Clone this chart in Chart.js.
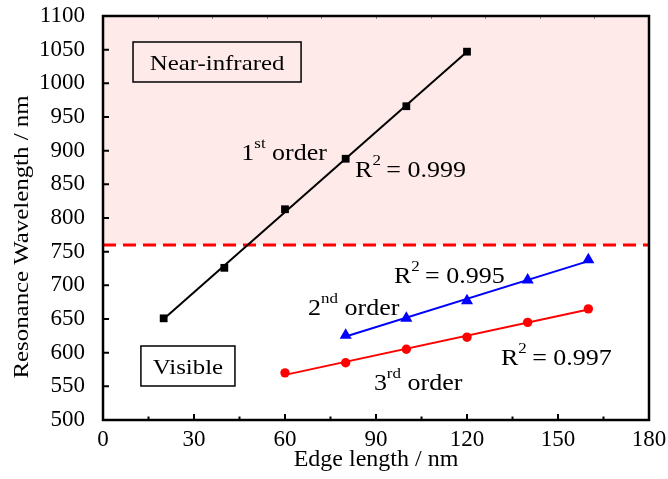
<!DOCTYPE html>
<html>
<head>
<meta charset="utf-8">
<script src="https://cdn.jsdelivr.net/npm/chart.js@4.4.0/dist/chart.umd.min.js"></script>
<style>
html, body { margin: 0; padding: 0; background: #fff; }
</style>
</head>
<body>
<canvas id="chart" width="668" height="479"></canvas>
<script>
// values
const edge1 = [20, 40, 60, 80, 100, 120];
const order1 = [651, 726, 813, 888, 966, 1047];
const edge2 = [80, 100, 120, 140, 160];
const order2 = [626, 651, 677, 708, 738];
const edge3 = [60, 80, 100, 120, 140, 160];
const order3 = [570, 585, 605, 623, 645, 665];

// fitted lines (end points)
const fit1X = [20, 120];
const fit1Y = [650, 1047];
const fit2X = [80, 160];
const fit2Y = [624, 736];
const fit3X = [60, 160];
const fit3Y = [567, 664];

// visible / near-infrared border
const borderX = [0, 180];
const borderY = [760, 760];

const xTicks = [0, 30, 60, 90, 120, 150, 180];
const yTicks = [500, 550, 600, 650, 700, 750, 800, 850, 900, 950, 1000, 1050, 1100];

const serif = "'Liberation Serif', 'Times New Roman', serif";
const stretch = 1.13;

const pts = (xs, ys) => xs.map((v, i) => ({x: v, y: ys[i]}));

// draws text pieces (with superscripts), slightly stretched sideways like the original
function drawParts(ctx, x, y, parts) {
    ctx.save();
    ctx.translate(x, y);
    ctx.scale(stretch, 1);
    ctx.fillStyle = '#000';
    ctx.textBaseline = 'alphabetic';
    let cx = 0;
    parts.forEach(p => {
        ctx.font = p.sup ? '15px ' + serif : '23px ' + serif;
        ctx.fillText(p.t, cx, p.sup ? -12 : 0);
        cx += ctx.measureText(p.t).width + (p.gap || 0);
    });
    ctx.restore();
}

const notes = [
    {x: 45.6, y: 886, parts: [{t: '1'}, {t: 'st', sup: true}, {t: ' order'}]},
    {x: 83.1, y: 861, parts: [{t: 'R'}, {t: '2', sup: true, gap: -1}, {t: ' = 0.999'}]},
    {x: 95.9, y: 703, parts: [{t: 'R'}, {t: '2', sup: true, gap: -1}, {t: ' = 0.995'}]},
    {x: 67.6, y: 656, parts: [{t: '2'}, {t: 'nd', sup: true}, {t: ' order'}]},
    {x: 131.2, y: 582, parts: [{t: 'R'}, {t: '2', sup: true, gap: -1}, {t: ' = 0.997'}]},
    {x: 89.3, y: 544.5, parts: [{t: '3'}, {t: 'rd', sup: true}, {t: ' order'}]}
];

const boxes = [
    {x0: 9.9, x1: 65.3, y0: 1061.4, y1: 1002, text: 'Near-infrared'},
    {x0: 12.5, x1: 43.5, y0: 609.9, y1: 550.5, text: 'Visible'}
];

const decorations = {
    id: 'decorations',
    afterDatasetsDraw(chart) {
        const {ctx, chartArea: a, scales: {x, y}} = chart;
        ctx.save();

        // boxes
        boxes.forEach(b => {
            const l = x.getPixelForValue(b.x0), r = x.getPixelForValue(b.x1);
            const t = y.getPixelForValue(b.y0), bt = y.getPixelForValue(b.y1);
            ctx.strokeStyle = '#000';
            ctx.lineWidth = 1.5;
            ctx.strokeRect(l, t, r - l, bt - t);
            ctx.save();
            ctx.translate((l + r) / 2, (t + bt) / 2 + 8);
            ctx.scale(stretch, 1);
            ctx.font = '22px ' + serif;
            ctx.fillStyle = '#000';
            ctx.textAlign = 'center';
            ctx.textBaseline = 'alphabetic';
            ctx.fillText(b.text, 0, 0);
            ctx.restore();
        });

        notes.forEach(n => drawParts(ctx, x.getPixelForValue(n.x), y.getPixelForValue(n.y), n.parts));

        // inward ticks
        ctx.strokeStyle = '#000';
        ctx.lineWidth = 2;
        ctx.beginPath();
        for (let v = 0; v <= 180; v += 15) {
            const px = x.getPixelForValue(v);
            ctx.moveTo(px, a.bottom);
            ctx.lineTo(px, a.bottom - (v % 30 === 0 ? 6 : 3.5));
        }
        yTicks.forEach(v => {
            const py = y.getPixelForValue(v);
            ctx.moveTo(a.left, py);
            ctx.lineTo(a.left + 6, py);
        });
        ctx.stroke();

        // faint ticks on the top edge
        ctx.strokeStyle = '#8a8a8a';
        ctx.lineWidth = 1;
        ctx.beginPath();
        for (let v = 18; v < 180; v += 18) {
            const px = Math.round(x.getPixelForValue(v)) + 0.5;
            ctx.moveTo(px, a.top);
            ctx.lineTo(px, a.top + 3);
        }
        ctx.stroke();

        // frame
        ctx.strokeStyle = '#000';
        ctx.lineWidth = 2.5;
        ctx.strokeRect(a.left, a.top, a.right - a.left, a.bottom - a.top);

        // y axis title, stretched along the text like the original
        ctx.save();
        ctx.translate(27.5, (a.top + a.bottom) / 2 + 19);
        ctx.rotate(-Math.PI / 2);
        ctx.scale(stretch, 1);
        ctx.font = '22px ' + serif;
        ctx.fillStyle = '#000';
        ctx.textAlign = 'center';
        ctx.textBaseline = 'alphabetic';
        ctx.fillText('Resonance Wavelength / nm', 0, 0);
        ctx.restore();

        ctx.restore();
    }
};

function makeChart() {
    new Chart(document.getElementById('chart'), {
        type: 'scatter',
        data: {
            datasets: [
                {
                    data: pts(fit1X, fit1Y), showLine: true, borderColor: '#000',
                    borderWidth: 2, pointRadius: 0, order: 2
                },
                {
                    data: pts(fit2X, fit2Y), showLine: true, borderColor: '#0000ff',
                    borderWidth: 2, pointRadius: 0, order: 2
                },
                {
                    data: pts(fit3X, fit3Y), showLine: true, borderColor: '#ff0000',
                    borderWidth: 2, pointRadius: 0, order: 2
                },
                {
                    data: pts(edge1, order1), pointStyle: 'rect', pointRadius: 5.5,
                    backgroundColor: '#000', borderColor: '#000', borderWidth: 0, order: 1
                },
                {
                    data: pts(edge2, order2), pointStyle: 'triangle', pointRadius: 7,
                    backgroundColor: '#0000ff', borderColor: '#0000ff', borderWidth: 0, order: 1
                },
                {
                    data: pts(edge3, order3), pointStyle: 'circle', pointRadius: 4.7,
                    backgroundColor: '#ff0000', borderColor: '#ff0000', borderWidth: 0, order: 1
                },
                {
                    data: pts(borderX, borderY), showLine: true, pointRadius: 0,
                    borderColor: '#ff0000', borderWidth: 3, borderDash: [13, 7],
                    fill: 'end', backgroundColor: '#ffeaea', order: 3
                }
            ]
        },
        options: {
            responsive: false,
            animation: false,
            layout: {autoPadding: false, padding: {left: 0, right: 19, top: 16, bottom: 0}},
            plugins: {legend: {display: false}, tooltip: {enabled: false}},
            scales: {
                x: {
                    type: 'linear', min: 0, max: 180,
                    afterBuildTicks: s => { s.ticks = xTicks.map(v => ({value: v})); },
                    afterFit: s => { s.height = 59; s.paddingLeft = 0; s.paddingRight = 0; },
                    grid: {display: false},
                    border: {display: false},
                    ticks: {
                        color: '#000', font: {family: serif, size: 23}, padding: -2, maxRotation: 0,
                        callback: v => String(v)
                    },
                    title: {
                        display: true, text: 'Edge length / nm', color: '#000',
                        font: {family: serif, size: 24}, padding: {top: 0, bottom: 5}
                    }
                },
                y: {
                    type: 'linear', min: 500, max: 1100,
                    afterBuildTicks: s => { s.ticks = yTicks.map(v => ({value: v})); },
                    afterFit: s => { s.width = 103; s.paddingTop = 0; s.paddingBottom = 0; },
                    grid: {display: false},
                    border: {display: false},
                    ticks: {
                        color: '#000', font: {family: serif, size: 23}, padding: 10,
                        callback: v => String(v)
                    }
                }
            }
        },
        plugins: [decorations]
    });
}

document.fonts.load('22px "Liberation Serif"').then(makeChart, makeChart);
</script>
</body>
</html>
